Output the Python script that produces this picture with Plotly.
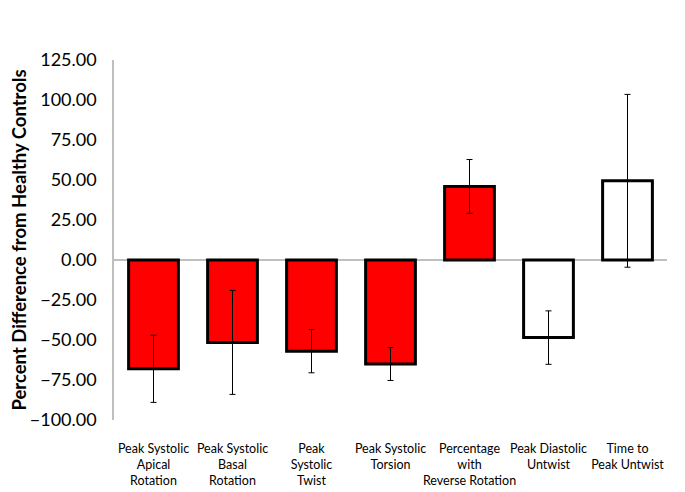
import plotly.graph_objects as go

categories = [
    "Peak Systolic<br>Apical<br>Rotation",
    "Peak Systolic<br>Basal<br>Rotation",
    "Peak<br>Systolic<br>Twist",
    "Peak Systolic<br>Torsion",
    "Percentage<br>with<br>Reverse Rotation",
    "Peak Diastolic<br>Untwist",
    "Time to<br>Peak Untwist",
]
values = [-68.0, -51.5, -57.0, -65.0, 46.0, -48.5, 49.5]
errors = [21.0, 32.5, 13.5, 10.3, 16.8, 16.7, 54.0]
fill_colors = ["#FF0000", "#FF0000", "#FF0000", "#FF0000", "#FF0000", "#FFFFFF", "#FFFFFF"]
y_ticks = [-100, -75, -50, -25, 0, 25, 50, 75, 100, 125]

fig = go.Figure(
    go.Bar(
        x=categories,
        y=values,
        width=0.63,
        marker=dict(color=fill_colors, line=dict(color="black", width=3)),
        error_y=dict(type="data", array=errors, visible=True, color="black", thickness=1, width=3),
    )
)

fig.update_layout(
    width=685,
    height=492,
    margin=dict(l=106, r=26, t=52, b=80),
    paper_bgcolor="white",
    plot_bgcolor="white",
    showlegend=False,
    font=dict(family="Lato, Carlito, sans-serif", color="black"),
    xaxis=dict(
        showline=False,
        showgrid=False,
        ticks="",
        tickangle=0,
        automargin=False,
        tickfont=dict(size=12.5),
        ticklabelstandoff=19,
        anchor="free",
        position=0,
    ),
    yaxis=dict(
        range=[-100, 125],
        tickvals=y_ticks,
        tickformat=".2f",
        automargin=False,
        showgrid=False,
        showline=True,
        linecolor="#bfbfbf",
        linewidth=1.5,
        zeroline=True,
        zerolinecolor="#bfbfbf",
        zerolinewidth=1.5,
        ticks="",
        ticklabelstandoff=12,
        tickfont=dict(size=18),
        title=dict(text="<b>Percent Difference from Healthy Controls</b>", font=dict(size=18.5), standoff=2),
    ),
)

fig.write_html("out.html")
